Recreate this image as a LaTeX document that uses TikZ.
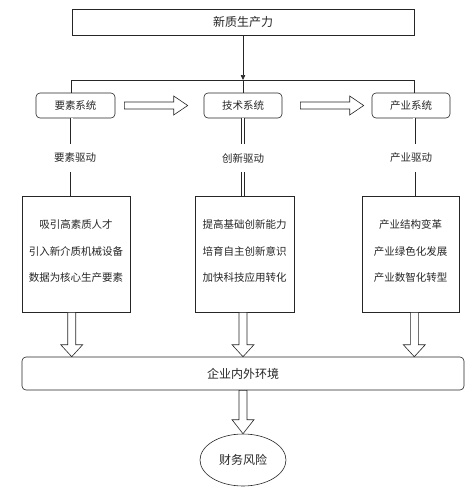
\documentclass[tikz,border=0pt]{standalone}
\usepackage{fontspec}
\setmainfont{Noto Sans CJK SC}
\usetikzlibrary{arrows.meta,calc,shapes.geometric}
\tikzset{
  ln/.style={line width=0.6pt, draw=black!85},
  box/.style={ln, rectangle, draw, inner sep=0pt, align=center, text=black!85},
  rbox/.style={box, rounded corners=4pt},
  small/.style={font=\fontsize{10.5}{12}\selectfont},
  big/.style={font=\fontsize{12}{14}\selectfont},
  lines3/.style={font=\fontsize{10.5}{26.5}\selectfont},
  dbl/.style={line width=0.6pt, draw=black!85, double=white, double distance=2.2pt},
  blk/.style={ln, fill=white, line join=miter},
  lbl/.style={inner sep=0pt, minimum height=28pt, text=black!85, font=\fontsize{10.5}{12}\selectfont},
}
% vertical block arrow: start, tip, half shaft, half head, head length
\newcommand\vblock[5]{%
  \draw[blk] ($(#1)+(-#3,0)$) -- ($(#2)+(-#3,-#5)$) -- ($(#2)+(-#4,-#5)$) -- (#2)
    -- ($(#2)+(#4,-#5)$) -- ($(#2)+(#3,-#5)$) -- ($(#1)+(#3,0)$) -- cycle;}
% horizontal block arrow (pointing right)
\newcommand\hblock[5]{%
  \draw[blk] ($(#1)+(0,-#3)$) -- ($(#2)+(-#5,-#3)$) -- ($(#2)+(-#5,-#4)$) -- (#2)
    -- ($(#2)+(-#5,#4)$) -- ($(#2)+(-#5,#3)$) -- ($(#1)+(0,#3)$) -- cycle;}
\begin{document}
\begin{tikzpicture}[x=1pt,y=-1pt]
\useasboundingbox (0,0) rectangle (474,491);

\node[box, big, minimum width=342pt, minimum height=26pt] (top) at (243,22) {新质生产力};

\node[rbox, small, minimum width=79pt, minimum height=25pt] (ys) at (75.5,105.5) {要素系统};
\node[rbox, small, minimum width=78pt, minimum height=25pt] (js) at (243,105.5) {技术系统};
\node[rbox, small, minimum width=78pt, minimum height=25pt] (cy) at (411,105.5) {产业系统};

\node[lbl] (l1) at (75,158) {要素驱动};
\node[lbl] (l2) at (243,158) {创新驱动};
\node[lbl] (l3) at (411,158) {产业驱动};

\node[box, lines3, minimum width=108pt, minimum height=116pt] (b1) at (76,254)
  {吸引高素质人才\\引入新介质机械设备\\数据为核心生产要素\\[-20pt]{}};
\node[box, lines3, minimum width=99pt, minimum height=116pt] (b2) at (244.5,254)
  {提高基础创新能力\\培育自主创新意识\\加快科技应用转化\\[-20pt]{}};
\node[box, lines3, minimum width=97pt, minimum height=116pt] (b3) at (410.5,254)
  {产业结构变革\\产业绿色化发展\\产业数智化转型\\[-20pt]{}};

\node[rbox, big, minimum width=442pt, minimum height=33pt] (env) at (243,373.5) {企业内外环境};

\node[ln, ellipse, draw, big, text=black!85, minimum width=86pt, minimum height=52pt, inner sep=0pt] (risk) at (243,460) {财务风险};

% top arrow and bus
\coordinate (bus) at (243,80);
\draw[ln, -{Triangle[length=5pt,width=4.5pt]}] (top.south) -- (bus);
\draw[ln] (top.south west |- ys.north) -- (top.south west |- bus) -- (top.south east |- bus) -- (top.south east |- cy.north);
\draw[ln] (bus) -- (js.north);

% horizontal block arrows
\hblock{$(ys.east)+(9,0)$}{$(js.west)+(-16,0)$}{3.5}{9.5}{14}
\hblock{$(js.east)+(18,0)$}{$(cy.west)+(-8,0)$}{3.5}{9.5}{14}

% double lines
\draw[dbl] (ys.south -| top.south west) -- (l1.north -| top.south west);
\draw[dbl] (l1.south -| top.south west) -- (b1.north -| top.south west);
\draw[dbl] (js.south -| top.south) -- (l2.north -| top.south);
\draw[dbl] (l2.south -| top.south) -- (b2.north -| top.south);
\draw[dbl] (ys.south -| top.south east) -- (l3.north -| top.south east);
\draw[dbl] (l3.south -| top.south east) -- (b3.north -| top.south east);

% down block arrows
\vblock{b1.south -| top.south west}{env.north -| top.south west}{4}{11}{12}
\vblock{b2.south -| top.south}{env.north -| top.south}{4}{11}{12}
\vblock{b3.south -| top.south east}{env.north -| top.south east}{4}{11}{12}
\vblock{env.south}{risk.north}{4}{11}{14}
\end{tikzpicture}
\end{document}
